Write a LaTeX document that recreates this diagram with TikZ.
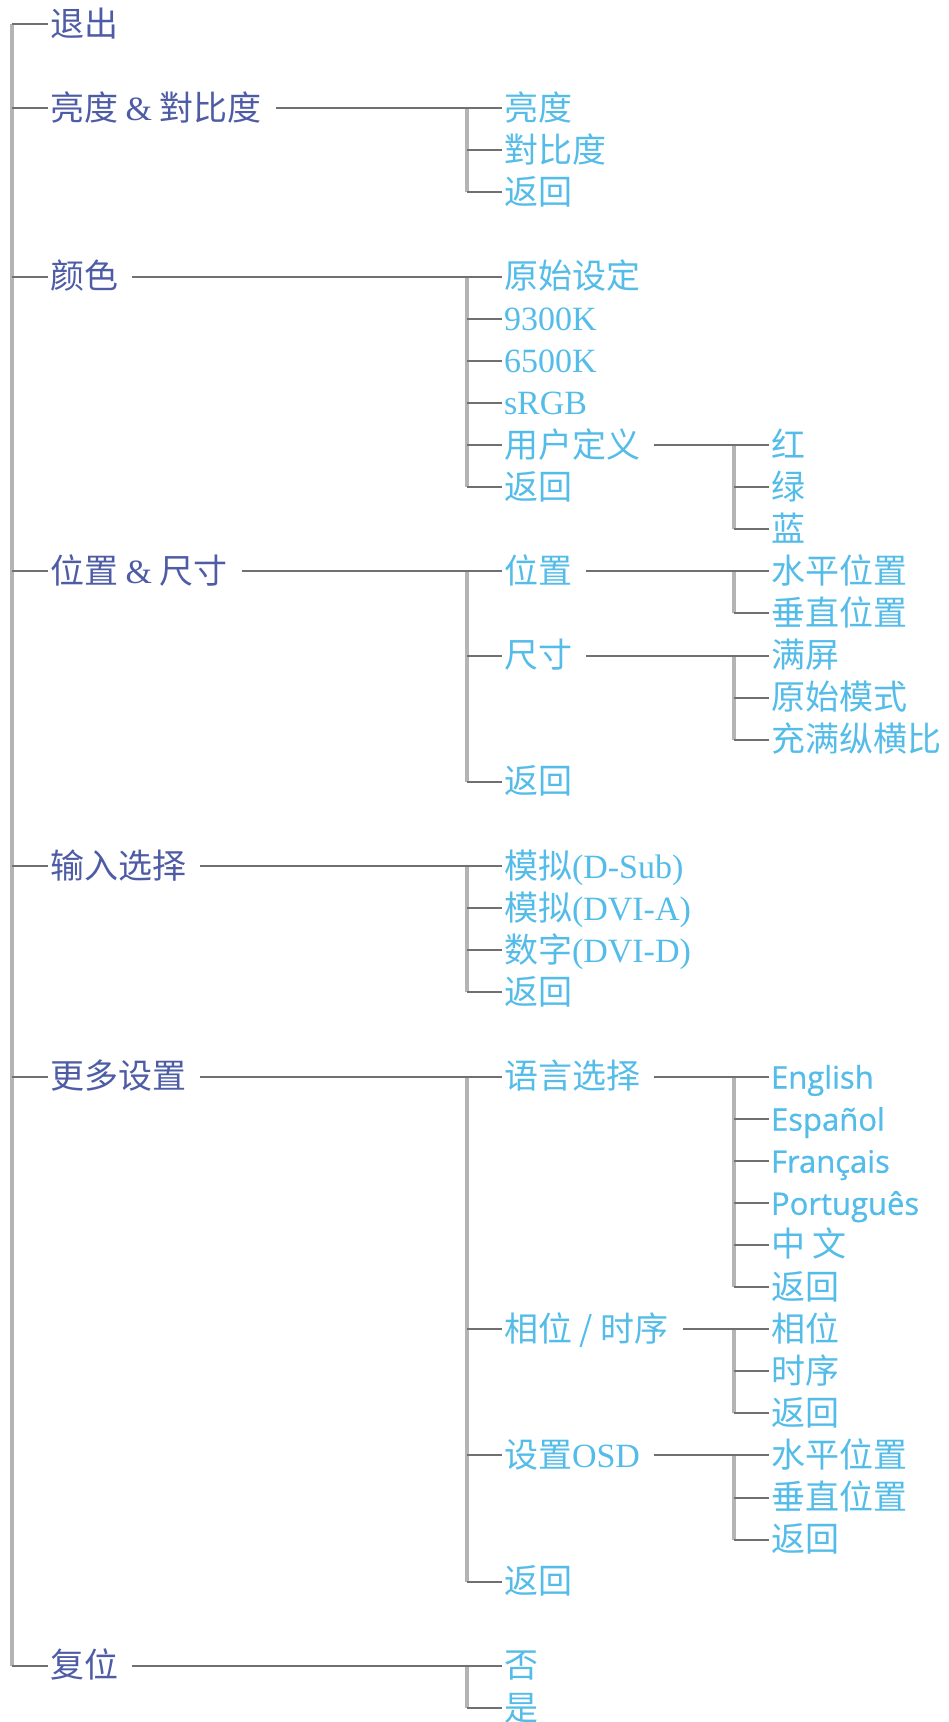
\documentclass[tikz,border=0pt]{standalone}
\usepackage{fontspec}
\setmainfont{Liberation Serif}
\newfontfamily\cjk{Noto Sans CJK SC}
\newfontfamily\latin[FakeBold=0.8]{Open Sans}
\usetikzlibrary{positioning}

\definecolor{mainblue}{RGB}{78,92,166}
\definecolor{subblue}{RGB}{84,188,232}
\definecolor{trunkgray}{RGB}{180,180,180}
\definecolor{stubgray}{RGB}{112,112,112}
\newcommand\rowy[1]{24+42.1*#1}
\newcommand\lat[1]{{\latin\fontsize{31}{36}\selectfont #1}}
\newcommand\rom[1]{{\rmfamily #1}}

\begin{document}
\begin{tikzpicture}[x=1pt, y=-1pt,
  item/.style={anchor=west, inner xsep=2pt, inner ysep=0pt, outer sep=0pt,
               text height=29pt, text depth=5pt,
               font=\fontsize{34}{36}\selectfont\cjk},
  top/.style={item, text=mainblue},
  sub/.style={item, text=subblue},
  trunk/.style={draw=trunkgray, line width=3.5pt},
  stub/.style={draw=stubgray, line width=2pt},
  link/.style={stub, shorten <=12pt}
]
  \useasboundingbox (0,0) rectangle (949,1722);
  \coordinate (col1) at (12,0);
  \coordinate (col2) at (467,0);
  \coordinate (col3) at (734,0);

  % main menu
  \node[top] (m0) at (48,{\rowy{0}})  {退出};
  \node[top] (m1) at (48,{\rowy{2}})  {亮度 \rom{\&} 對比度};
  \node[top] (m2) at (48,{\rowy{6}})  {颜色};
  \node[top] (m3) at (48,{\rowy{13}}) {位置 \rom{\&} 尺寸};
  \node[top] (m4) at (48,{\rowy{20}}) {输入选择};
  \node[top] (m5) at (48,{\rowy{25}}) {更多设置};
  \node[top] (m6) at (48,{\rowy{39}}) {复位};

  % second level
  \node[sub] (b1) at (502,{\rowy{2}})  {亮度};
  \node[sub] (b2) at (502,{\rowy{3}})  {對比度};
  \node[sub] (b3) at (502,{\rowy{4}})  {返回};
  \node[sub] (c1) at (502,{\rowy{6}})  {原始设定};
  \node[sub] (c2) at (502,{\rowy{7}})  {\rom{9300K}};
  \node[sub] (c3) at (502,{\rowy{8}})  {\rom{6500K}};
  \node[sub] (c4) at (502,{\rowy{9}})  {\rom{sRGB}};
  \node[sub] (c5) at (502,{\rowy{10}}) {用户定义};
  \node[sub] (c6) at (502,{\rowy{11}}) {返回};
  \node[sub] (p1) at (502,{\rowy{13}}) {位置};
  \node[sub] (p2) at (502,{\rowy{15}}) {尺寸};
  \node[sub] (p3) at (502,{\rowy{18}}) {返回};
  \node[sub] (i1) at (502,{\rowy{20}}) {模拟\rom{(D-Sub)}};
  \node[sub] (i2) at (502,{\rowy{21}}) {模拟\rom{(DVI-A)}};
  \node[sub] (i3) at (502,{\rowy{22}}) {数字\rom{(DVI-D)}};
  \node[sub] (i4) at (502,{\rowy{23}}) {返回};
  \node[sub] (o1) at (502,{\rowy{25}}) {语言选择};
  \node[sub] (o2) at (502,{\rowy{31}}) {相位 / 时序};
  \node[sub] (o3) at (502,{\rowy{34}}) {设置\rom{OSD}};
  \node[sub] (o4) at (502,{\rowy{37}}) {返回};
  \node[sub] (r1) at (502,{\rowy{39}}) {否};
  \node[sub] (r2) at (502,{\rowy{40}}) {是};

  % third level
  \node[sub] (u1) at (769,{\rowy{10}}) {红};
  \node[sub] (u2) at (769,{\rowy{11}}) {绿};
  \node[sub] (u3) at (769,{\rowy{12}}) {蓝};
  \node[sub] (h1) at (769,{\rowy{13}}) {水平位置};
  \node[sub] (h2) at (769,{\rowy{14}}) {垂直位置};
  \node[sub] (s1) at (769,{\rowy{15}}) {满屏};
  \node[sub] (s2) at (769,{\rowy{16}}) {原始模式};
  \node[sub] (s3) at (769,{\rowy{17}}) {充满纵横比};
  \node[sub] (l1) at (769,{\rowy{25}}) {\lat{English}};
  \node[sub] (l2) at (769,{\rowy{26}}) {\lat{Español}};
  \node[sub] (l3) at (769,{\rowy{27}}) {\lat{Français}};
  \node[sub] (l4) at (769,{\rowy{28}}) {\lat{Português}};
  \node[sub] (l5) at (769,{\rowy{29}}) {中 文};
  \node[sub] (l6) at (769,{\rowy{30}}) {返回};
  \node[sub] (t1) at (769,{\rowy{31}}) {相位};
  \node[sub] (t2) at (769,{\rowy{32}}) {时序};
  \node[sub] (t3) at (769,{\rowy{33}}) {返回};
  \node[sub] (d1) at (769,{\rowy{34}}) {水平位置};
  \node[sub] (d2) at (769,{\rowy{35}}) {垂直位置};
  \node[sub] (d3) at (769,{\rowy{36}}) {返回};

  % trunks
  \draw[trunk] (m0.west -| col1) -- (m6.west -| col1);
  \foreach \a/\b/\c in {b1/b3/col2, c1/c6/col2, p1/p3/col2, i1/i4/col2,
      o1/o4/col2, r1/r2/col2, u1/u3/col3, h1/h2/col3, s1/s3/col3,
      l1/l6/col3, t1/t3/col3, d1/d3/col3}
    \draw[trunk] (\a.west -| \c) -- (\b.west -| \c);

  % stubs
  \foreach \n in {m0,m1,m2,m3,m4,m5,m6}
    \draw[stub] (\n.west -| col1) -- (\n.west);
  \foreach \n in {b2,b3,c2,c3,c4,c5,c6,p2,p3,i2,i3,i4,o2,o3,o4,r2}
    \draw[stub] (\n.west -| col2) -- (\n.west);
  \foreach \n in {u2,u3,h2,s2,s3,l2,l3,l4,l5,l6,t2,t3,d2,d3}
    \draw[stub] (\n.west -| col3) -- (\n.west);

  % parent to first child
  \foreach \p/\n in {m1/b1, m2/c1, m3/p1, m4/i1, m5/o1, m6/r1,
      c5/u1, p1/h1, p2/s1, o1/l1, o2/t1, o3/d1}
    \draw[link] (\p.east) -- (\n.west);
\end{tikzpicture}
\end{document}
